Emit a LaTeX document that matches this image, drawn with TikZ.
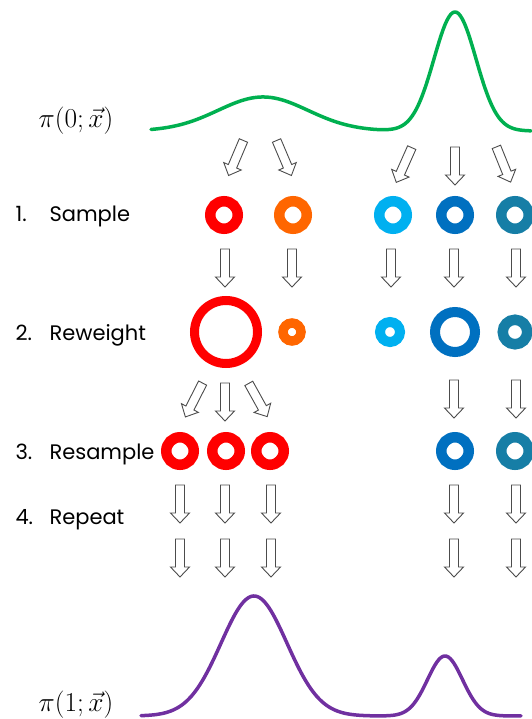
\documentclass[tikz,border=0pt]{standalone}
\usepackage{fontspec}
\setsansfont{Poppins}
\usetikzlibrary{calc}
\definecolor{pigreen}{RGB}{0,176,80}
\definecolor{pipurple}{RGB}{112,48,160}
\definecolor{pred}{RGB}{255,0,0}
\definecolor{porange}{RGB}{255,102,0}
\definecolor{plightblue}{RGB}{0,176,240}
\definecolor{pblue}{RGB}{0,112,192}
\definecolor{pteal}{RGB}{22,126,166}
\def\blkarrow(#1)(#2){\draw[blk, shift={(#1)}, rotate=#2] (-19,-4.5) -- (9,-4.5) -- (9,-9.5) -- (19,0) -- (9,9.5) -- (9,4.5) -- (-19,4.5) -- cycle;}

\begin{document}
\begin{tikzpicture}[x=1pt, y=-1pt,
		blk/.style={draw=black!70, fill=white, line width=0.9pt, line join=miter},
		ring/.style={circle, draw=#1, inner sep=0pt},
		small/.style={minimum size=27.5pt, line width=10.5pt},
		steplabel/.style={anchor=base west, font=\sffamily\fontsize{21}{25}\selectfont},
		pilabel/.style={font=\fontsize{24.88}{30}\selectfont},
		curve/.style={line width=3.5pt, line cap=round, line join=round}]
			%%%%% START %%%%%
			\useasboundingbox (0,0) rectangle (531,719);
			
			% densities
			\draw[curve, pigreen] plot[domain=151:531, samples=200]
				(\x, {131 - 34*exp(max(-9, -((\x-263)/45)^2/2)) - 119*exp(max(-9, -((\x-455)/21)^2/2))});
			\draw[curve, pipurple] plot[domain=141:521, samples=200]
				(\x, {716 - 120*exp(max(-9, -((\x-254)/33)^2/2)) - 60*exp(max(-9, -((\x-445)/17.5)^2/2))});
			
			\node[pilabel] (pi0) at (76,121) {\scalebox{1.1}{$\pi(0;\vec{x})$}};
			\node[pilabel] (pi1) at (76,705) {\scalebox{1.1}{$\pi(1;\vec{x})$}};
			
			% step labels
			\node[steplabel] (sample) at (12,222) {\makebox[34pt][l]{1.}Sample};
			\node[steplabel] (reweight) at (12,340) {\makebox[34pt][l]{2.}Reweight};
			\node[steplabel] (resample) at (12,459) {\makebox[34pt][l]{3.}Resample};
			\node[steplabel] (repeat) at (12,524) {\makebox[34pt][l]{4.}Repeat};
			
			% 1. sample
			\blkarrow(236,158)(-113);
			\blkarrow(284,158)(-67);
			\blkarrow(404,165)(-114);
			\blkarrow(455,166)(-90);
			\blkarrow(503.5,164.5)(-68);
			
			\node[ring=pred, small] (s1) at (224,215) {};
			\node[ring=porange, small] (s2) at (293,215) {};
			\node[ring=plightblue, small] (s3) at (393,215) {};
			\node[ring=pblue, small] (s4) at (455,215) {};
			\node[ring=pteal, small] (s5) at (515,215) {};
			
			% 2. reweight
			\foreach \ax in {225,292,391,454,516}
				\blkarrow(\ax,268)(-90);
			
			\node[ring=pred, minimum size=63pt, line width=9pt] (w1) at (226,332) {};
			\node[ring=porange, minimum size=18pt, line width=9.5pt] (w2) at (292,332) {};
			\node[ring=plightblue, minimum size=20pt, line width=10pt] (w3) at (390,332) {};
			\node[ring=pblue, minimum size=40pt, line width=10pt] (w4) at (455,332) {};
			\node[ring=pteal, minimum size=24.5pt, line width=10.5pt] (w5) at (515,332) {};
			
			% 3. resample
			\blkarrow(194,400)(-117);
			\blkarrow(225,402)(-90);
			\blkarrow(258,400)(-61);
			\blkarrow(454,399)(-90);
			\blkarrow(516,399)(-90);
			
			\node[ring=pred, small] (r1) at (180,451) {};
			\node[ring=pred, small] (r2) at (226,451) {};
			\node[ring=pred, small] (r3) at (270,451) {};
			\node[ring=pblue, small] (r4) at (455,451) {};
			\node[ring=pteal, small] (r5) at (515,451) {};
			
			% 4. repeat
			\foreach \ax in {180,225,271,454,516} {
				\blkarrow(\ax,504)(-90);
				\blkarrow(\ax,558)(-90);
			}
			
			%%%%% END %%%%%
		\end{tikzpicture}
\end{document}
